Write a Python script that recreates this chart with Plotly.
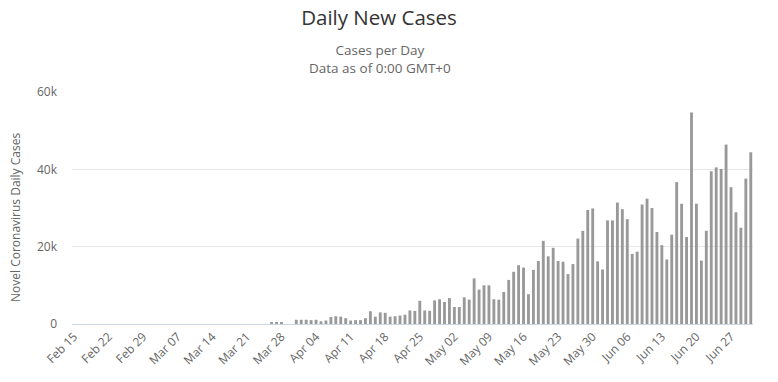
import pandas as pd
import plotly.graph_objects as go

# ---- data (daily new cases, Feb 15 .. Jul 1) ----
start_date = "2020-02-15"
end_date = "2020-07-01"

feb_cases = [0, 0, 0, 0, 0, 0, 0, 0, 0, 0, 0,  # Feb 15-25
             0, 0, 0, 0]                          # Feb 26-29
mar_cases = [0, 0, 0, 0, 0, 0, 0, 0, 0, 0, 0, 0, 0, 0, 0, 0, 0, 0, 0, 0,
             0, 0, 0, 0, 0, 480, 500, 490, 0, 0, 1100]
apr_cases = [1100, 1100, 1000, 1100, 700, 900, 1800, 2000, 1900, 1500, 900, 1000, 1000,
             1500, 3300, 1900, 3000, 2900, 1900, 2000, 2200, 2400, 3500, 3400, 6000, 3500,
             3400, 6100, 6400, 5700]
may_cases = [6700, 4400, 4400, 6900, 6300, 11800, 8900, 10000, 10000, 6400, 6300, 8300,
             11400, 13500, 15200, 14600, 7700, 14000, 16300, 21500, 17500, 19700, 16300,
             16100, 12900, 15500, 22100, 24100, 29500, 29900, 16200]
jun_cases = [14100, 26800, 26800, 31400, 29700, 27100, 18100, 18700, 30900, 32400, 30000,
             23800, 20400, 16700, 23100, 36700, 31100, 22500, 54700, 31100, 16400, 24100,
             39500, 40500, 40100, 46400, 35400, 28900, 24900, 37600]
jul_cases = [44400]

x_tick_labels = ["Feb 15", "Feb 22", "Feb 29", "Mar 07", "Mar 14", "Mar 21", "Mar 28",
                 "Apr 04", "Apr 11", "Apr 18", "Apr 25", "May 02", "May 09", "May 16",
                 "May 23", "May 30", "Jun 06", "Jun 13", "Jun 20", "Jun 27"]
y_tick_values = [0, 20000, 40000, 60000]
y_tick_labels = ["0", "20k", "40k", "60k"]

daily_cases = feb_cases + mar_cases + apr_cases + may_cases + jun_cases + jul_cases
dates = pd.date_range(start_date, end_date, freq="D")
tick_dates = pd.date_range(start_date, periods=len(x_tick_labels), freq="7D")

FONT = "Open Sans, Arial, sans-serif"

fig = go.Figure(
    go.Bar(
        x=dates,
        y=daily_cases,
        marker=dict(color="#999999", line=dict(width=0)),
        hovertemplate="%{x|%b %d}: %{y}<extra></extra>",
    )
)

fig.update_layout(
    width=778,
    height=382,
    margin=dict(l=72, r=25, t=92, b=58),
    paper_bgcolor="white",
    plot_bgcolor="white",
    bargap=0.42,
    showlegend=False,
    font=dict(family=FONT, color="#666666", size=12),
    title=dict(
        text="Daily New Cases",
        x=379 / 778,
        xanchor="center",
        y=1 - 18 / 382,
        yanchor="middle",
        yref="container",
        font=dict(family=FONT, size=20.5, color="#333333"),
    ),
    annotations=[
        dict(text="Cases per Day<br>Data as of 0:00 GMT+0", xref="paper", yref="paper",
             x=(380 - 72) / 681, y=1 + (92 - 59) / 232, xanchor="center",
             yanchor="middle", showarrow=False,
             font=dict(family=FONT, size=13.5, color="#666666")),
        dict(text="Novel Coronavirus Daily Cases", xref="paper", yref="paper",
             x=(15 - 72) / 681, y=(324 - 218) / 232, xanchor="center", yanchor="middle",
             textangle=-90, showarrow=False,
             font=dict(family=FONT, size=12, color="#666666")),
    ],
    xaxis=dict(
        type="date",
        range=["2020-02-14 14:24", "2020-07-01 10:48"],
        tickvals=tick_dates,
        ticktext=x_tick_labels,
        tickangle=-45,
        showgrid=False,
        showline=True,
        linecolor="#ccd6eb",
        linewidth=1,
        ticks="",
        automargin=False,
        tickfont=dict(family=FONT, size=12, color="#666666"),
        zeroline=False,
    ),
    yaxis=dict(
        range=[0, 60000],
        tickvals=y_tick_values,
        ticktext=y_tick_labels,
        showgrid=True,
        gridcolor="#e6e6e6",
        gridwidth=1,
        zeroline=False,
        showline=False,
        ticks="",
        automargin=False,
        ticklabelstandoff=14,
        tickfont=dict(family=FONT, size=12, color="#666666"),
    ),
)

fig.write_html("out.html", config={"displayModeBar": False},
               post_script="document.body.style.margin='0';")
